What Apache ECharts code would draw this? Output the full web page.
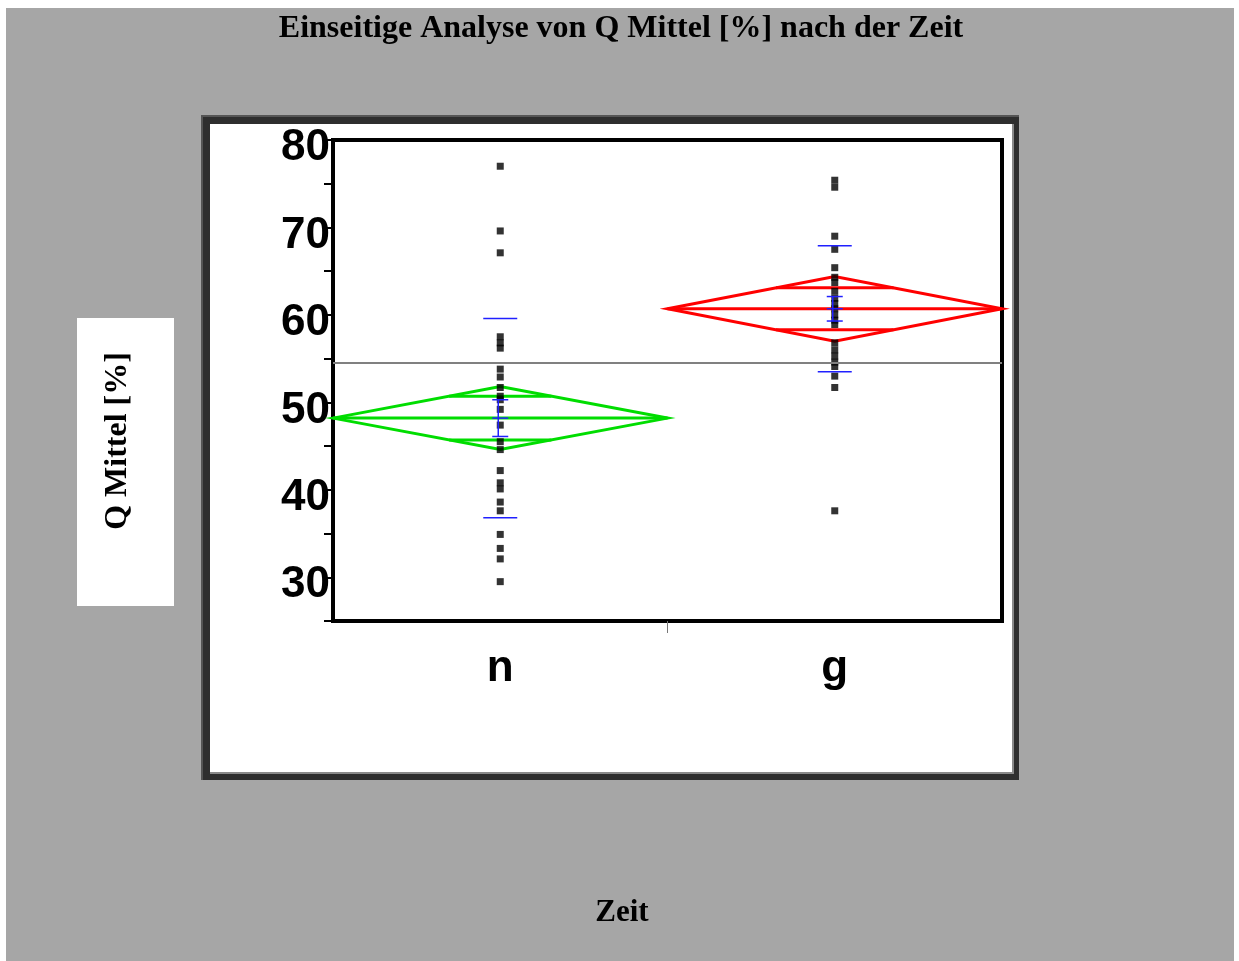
<!DOCTYPE html>
<html>
<head>
<meta charset="utf-8">
<script src="https://cdn.jsdelivr.net/npm/echarts@6/dist/echarts.min.js"></script>
<style>
html,body{margin:0;padding:0;background:#fff;}
#chart{width:1239px;height:961px;}
</style>
</head>
<body>
<div id="chart"></div>
<script>
// ---- data ----
const groups = ['n', 'g'];
const nValues = [77.0, 69.6, 67.1, 57.5, 56.8, 56.2, 53.8, 52.9, 51.7, 50.7, 50.3, 49.2, 47.4, 45.5, 44.6, 42.2, 40.8, 40.1, 38.6, 37.6, 34.9, 33.3, 32.1, 29.5];
const gValues = [75.4, 74.6, 69.0, 67.5, 65.4, 64.3, 63.7, 62.7, 61.9, 61.3, 60.7, 60.0, 59.4, 58.9, 56.8, 56.0, 55.3, 54.6, 54.1, 53.0, 51.7, 37.6];
const groupMeans = [48.2, 60.7];
const ciHalf = [3.6, 3.7];
const overlapHalf = [2.5, 2.4];
const stdDev = [11.4, 7.2];
const stdErr = [2.1, 1.4];
const grandMean = 54.5;
const yMin = 25;
const yMax = 80;
const yTicks = [30, 40, 50, 60, 70, 80];

// ---- styles ----
const diamondColors = ['#00dd00', '#ff0000'];
const blueColor = '#2020ff';
const titleFont = '"Liberation Serif", "Times New Roman", serif';
const sansFont = '"Liberation Sans", Arial, sans-serif';

const chart = echarts.init(document.getElementById('chart'));

const summary = groups.map((g, i) => [i, groupMeans[i], ciHalf[i], overlapHalf[i], stdDev[i], stdErr[i]]);

function renderDiamond(params, api) {
  const i = api.value(0), mean = api.value(1), ci = api.value(2), ov = api.value(3);
  const c = api.coord([i, mean]);
  const top = api.coord([i, mean + ci]);
  const bot = api.coord([i, mean - ci]);
  const half = api.size([1, 0])[0] / 2;
  const ovUp = api.coord([i, mean + ov]);
  const ovDn = api.coord([i, mean - ov]);
  const w = half * (1 - ov / ci);
  const style = { stroke: diamondColors[i], lineWidth: 3, fill: null };
  const children = [
    { type: 'polygon', shape: { points: [[c[0] - half, c[1]], [c[0], top[1]], [c[0] + half, c[1]], [c[0], bot[1]]] }, style: style },
    { type: 'line', shape: { x1: c[0] - half, y1: c[1], x2: c[0] + half, y2: c[1] }, style: style },
    { type: 'line', shape: { x1: c[0] - w, y1: ovUp[1], x2: c[0] + w, y2: ovUp[1] }, style: style },
    { type: 'line', shape: { x1: c[0] - w, y1: ovDn[1], x2: c[0] + w, y2: ovDn[1] }, style: style }
  ];
  if (i > 0) {
    // category divider tick below the x axis
    const base = api.coord([i, yMin]);
    children.push({ type: 'line', z2: 50, shape: { x1: c[0] - half, y1: base[1], x2: c[0] - half, y2: base[1] + 12 }, style: { stroke: '#777', lineWidth: 1 } });
  }
  return { type: 'group', children: children };
}

function renderBlue(params, api) {
  const i = api.value(0), mean = api.value(1), sd = api.value(4), se = api.value(5);
  const c = api.coord([i, mean]);
  const sdUp = api.coord([i, mean + sd]);
  const sdDn = api.coord([i, mean - sd]);
  const seUp = api.coord([i, mean + se]);
  const seDn = api.coord([i, mean - se]);
  const sdW = 17, seW = 8;
  const style = { stroke: blueColor, lineWidth: 1.5 };
  return {
    type: 'group',
    children: [
      { type: 'line', shape: { x1: c[0] - sdW, y1: sdUp[1], x2: c[0] + sdW, y2: sdUp[1] }, style: style },
      { type: 'line', shape: { x1: c[0] - sdW, y1: sdDn[1], x2: c[0] + sdW, y2: sdDn[1] }, style: style },
      { type: 'line', shape: { x1: c[0] - 2, y1: seUp[1], x2: c[0] - 2, y2: seDn[1] }, style: style },
      { type: 'line', shape: { x1: c[0] - seW, y1: seUp[1], x2: c[0] + seW, y2: seUp[1] }, style: style },
      { type: 'line', shape: { x1: c[0] - seW, y1: c[1], x2: c[0] + seW, y2: c[1] }, style: style },
      { type: 'line', shape: { x1: c[0] - seW, y1: seDn[1], x2: c[0] + seW, y2: seDn[1] }, style: style }
    ]
  };
}

const option = {
  animation: false,
  backgroundColor: '#ffffff',
  graphic: [
    { type: 'rect', z: -10, shape: { x: 6, y: 8, width: 1228, height: 953 }, style: { fill: '#a6a6a6' } },
    { type: 'rect', z: -9, shape: { x: 201, y: 115, width: 818, height: 665 }, style: { fill: '#555555' } },
    { type: 'rect', z: -9, shape: { x: 203, y: 117, width: 816, height: 663 }, style: { fill: '#2e2e2e' } },
    { type: 'rect', z: -8, shape: { x: 210, y: 124, width: 804, height: 650 }, style: { fill: '#8a8a8a' } },
    { type: 'rect', z: -7, shape: { x: 210, y: 124, width: 802, height: 648 }, style: { fill: '#ffffff' } },
    { type: 'rect', z: -7, shape: { x: 77, y: 318, width: 97, height: 288 }, style: { fill: '#ffffff' } },
    { type: 'text', z: 5, x: 621, y: 29, style: { text: 'Einseitige Analyse von Q Mittel [%] nach der Zeit', font: 'bold 32px ' + titleFont, fill: '#000', textAlign: 'center', textVerticalAlign: 'middle' } },
    { type: 'text', z: 5, x: 622, y: 913, style: { text: 'Zeit', font: 'bold 31px ' + titleFont, fill: '#000', textAlign: 'center', textVerticalAlign: 'middle' } },
    { type: 'text', z: 5, x: 118, y: 441, rotation: Math.PI / 2, style: { text: 'Q Mittel [%]', font: 'bold 32px ' + titleFont, fill: '#000', textAlign: 'center', textVerticalAlign: 'middle' } }
  ],
  grid: {
    left: 333, top: 140, width: 669, height: 481,
    show: true, backgroundColor: '#ffffff', borderColor: '#000', borderWidth: 4, z: 0
  },
  xAxis: {
    type: 'category', data: groups, boundaryGap: true,
    axisLine: { show: true, lineStyle: { color: '#000', width: 4 } },
    axisTick: { show: false },
    axisLabel: { color: '#000', fontSize: 44, fontWeight: 'bold', fontFamily: sansFont, margin: 26 },
    splitLine: { show: false }
  },
  yAxis: {
    type: 'value', min: yMin, max: yMax, interval: 5,
    axisLine: { show: true, lineStyle: { color: '#000', width: 4 } },
    axisTick: { show: true, length: 9, lineStyle: { color: '#000', width: 2 } },
    axisLabel: {
      color: '#000', fontSize: 44, fontWeight: 'bold', fontFamily: sansFont, margin: 3,
      verticalAlign: 'top', lineHeight: 16,
      formatter: v => (yTicks.indexOf(v) >= 0 ? String(v) : '')
    },
    splitLine: { show: false }
  },
  series: [
    {
      type: 'custom', name: 'diamonds', renderItem: renderDiamond, data: summary, z: 2,
      encode: { x: 0, y: 1 }, silent: true, clip: false,
      markLine: {
        silent: true, symbol: 'none', label: { show: false },
        lineStyle: { color: '#808080', width: 2, type: 'solid' },
        data: [{ yAxis: grandMean }]
      }
    },
    {
      type: 'scatter', name: 'n', symbol: 'rect', symbolSize: 7, z: 3,
      itemStyle: { color: '#000' },
      data: nValues.map(v => [groups[0], v])
    },
    {
      type: 'scatter', name: 'g', symbol: 'rect', symbolSize: 7, z: 3,
      itemStyle: { color: '#000' },
      data: gValues.map(v => [groups[1], v])
    },
    {
      type: 'custom', name: 'blue', renderItem: renderBlue, data: summary, z: 4,
      encode: { x: 0, y: 1 }, silent: true
    }
  ]
};
chart.setOption(option);
</script>
</body>
</html>
